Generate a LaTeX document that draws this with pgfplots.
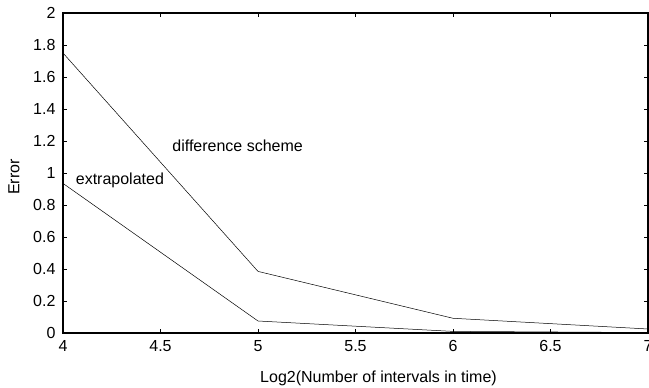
\documentclass[border=0pt]{standalone}
\usepackage{pgfplots}
\pgfplotsset{compat=1.18}
\usepackage{fontspec}
\setmainfont{Liberation Sans}
\begin{document}
\fontsize{16}{19}\selectfont
\begin{tikzpicture}
\begin{axis}[
  at={(0,0)}, anchor=south west,
  scale only axis, width=585pt, height=320pt,
  xmin=4, xmax=7, ymin=0, ymax=2,
  xtick={4,4.5,5,5.5,6,6.5,7},
  ytick={0,0.2,0.4,0.6,0.8,1,1.2,1.4,1.6,1.8,2},
  xticklabels={4,4.5,5,5.5,6,6.5,7},
  yticklabels={0,0.2,0.4,0.6,0.8,1,1.2,1.4,1.6,1.8,2},
  tick align=inside, major tick length=4pt,
  tick style={black, line width=0.6pt},
  axis line style={line width=1.3pt},
  xlabel={Log2(Number of intervals in time)},
  ylabel={Error},
  xlabel style={at={(0.5,0)}, anchor=north, yshift=-32pt, xshift=23pt},
  ylabel style={at={(0,0.5)}, anchor=south, yshift=38pt, xshift=-4pt},
  xticklabel style={yshift=-2pt},
  yticklabel style={xshift=-2pt},
  clip=false,
]
\addplot[black, line width=0.5pt] coordinates {(4,1.75) (5,0.385) (6,0.092) (7,0.025)};
\addplot[black, line width=0.5pt] coordinates {(4,0.935) (5,0.075) (6,0.01) (7,0.003)};
\node[anchor=west, inner sep=0pt] at (axis cs:4.56,1.17) {difference scheme};
\node[anchor=west, inner sep=0pt] at (axis cs:4.065,0.955) {extrapolated};
\end{axis}
\pgfresetboundingbox
\useasboundingbox (-63pt,-55pt) rectangle (586pt,333pt);
\end{tikzpicture}
\end{document}
